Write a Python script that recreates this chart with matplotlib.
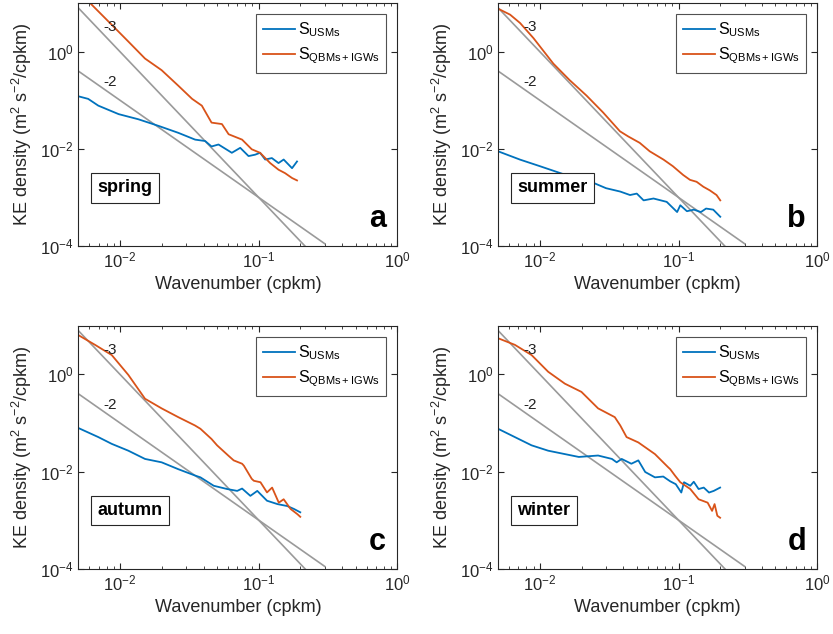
import numpy as np
from matplotlib import pyplot as plt
from matplotlib.ticker import LogLocator, NullLocator, LogFormatterMathtext

plt.rcParams['font.family'] = ['Liberation Sans', 'DejaVu Sans']
plt.rcParams['mathtext.fontset'] = 'custom'
plt.rcParams['mathtext.rm'] = 'Liberation Sans'
plt.rcParams['mathtext.it'] = 'Liberation Sans'

### ---- data ---- ###
seasons = ['spring', 'summer', 'autumn', 'winter']
letters = ['a', 'b', 'c', 'd']

# panel a - spring
k_usm_a = [0.005, 0.00589, 0.00697, 0.00977, 0.01355, 0.0191, 0.0263, 0.0348, 0.0411, 0.0457, 0.0513,
           0.064, 0.0736, 0.0845, 0.0944, 0.1023, 0.1114, 0.1245, 0.139, 0.1514, 0.174, 0.189]
S_usm_a = [0.121, 0.107, 0.0776, 0.0519, 0.0407, 0.0295, 0.0214, 0.0155, 0.0145, 0.0112, 0.0123,
           0.0083, 0.0105, 0.0071, 0.0076, 0.0083, 0.00603, 0.00646, 0.0051, 0.00603, 0.0040, 0.0055]
k_qbm_a = [0.00607, 0.00871, 0.01148, 0.01514, 0.01995, 0.0263, 0.0331, 0.0389, 0.0457, 0.0543,
           0.0607, 0.0759, 0.0891, 0.1023, 0.121, 0.139, 0.155, 0.174, 0.189]
S_qbm_a = [10.1, 3.59, 1.62, 0.724, 0.417, 0.20, 0.107, 0.0776, 0.0347, 0.0324,
           0.020, 0.0155, 0.0098, 0.0083, 0.0051, 0.00372, 0.00316, 0.00251, 0.00224]

# panel b - summer
k_usm_b = [0.005, 0.0072, 0.010, 0.0139, 0.0195, 0.0243, 0.030, 0.038, 0.0447, 0.050, 0.056,
           0.066, 0.0822, 0.0977, 0.103, 0.115, 0.129, 0.145, 0.158, 0.178, 0.20]
S_usm_b = [0.0089, 0.006, 0.0044, 0.0032, 0.0023, 0.0020, 0.00155, 0.00132, 0.00112, 0.0012,
           0.00087, 0.00095, 0.00081, 0.0005, 0.00069, 0.00052, 0.00056, 0.0005, 0.00059, 0.00056, 0.0004]
k_qbm_b = [0.005, 0.0061, 0.0072, 0.009, 0.0125, 0.0164, 0.0217, 0.0286, 0.0378, 0.0434, 0.0525,
           0.062, 0.078, 0.091, 0.108, 0.121, 0.135, 0.151, 0.168, 0.188, 0.20]
S_qbm_b = [7.7, 5.8, 3.9, 1.9, 0.57, 0.26, 0.125, 0.056, 0.023, 0.018, 0.0133,
           0.0089, 0.006, 0.0044, 0.0029, 0.0023, 0.0021, 0.00166, 0.0014, 0.00112, 0.00087]

# panel c - autumn
k_usm_c = [0.005, 0.00697, 0.00871, 0.01148, 0.01514, 0.01995, 0.0263, 0.0347, 0.038, 0.0474,
           0.0592, 0.070, 0.0759, 0.0871, 0.0977, 0.1148, 0.1365, 0.1607, 0.1795, 0.1995]
S_usm_c = [0.079, 0.0513, 0.0372, 0.0269, 0.0182, 0.0155, 0.0112, 0.0083, 0.0076, 0.0051,
           0.00437, 0.0040, 0.00447, 0.00316, 0.0040, 0.00251, 0.00214, 0.00195, 0.0017, 0.00145]
k_qbm_c = [0.005, 0.0066, 0.00871, 0.01148, 0.01514, 0.01995, 0.0263, 0.0347, 0.038, 0.0457,
           0.0501, 0.0603, 0.066, 0.0759, 0.0782, 0.0891, 0.0923, 0.103, 0.1148, 0.125,
           0.1396, 0.1514, 0.1698, 0.1905, 0.1995]
S_qbm_c = [6.46, 4.07, 2.51, 0.977, 0.316, 0.20, 0.132, 0.089, 0.076, 0.0468,
           0.0347, 0.0214, 0.017, 0.0145, 0.0132, 0.00708, 0.00646, 0.00603, 0.00372, 0.00468,
           0.00229, 0.00269, 0.0017, 0.00132, 0.00117]

# panel d - winter
k_usm_d = [0.005, 0.0066, 0.00871, 0.01148, 0.01514, 0.0191, 0.0263, 0.0331, 0.0358, 0.0389,
           0.0457, 0.0513, 0.0575, 0.0676, 0.0776, 0.0871, 0.0955, 0.1047, 0.1096, 0.1216,
           0.1288, 0.1396, 0.152, 0.166, 0.1795, 0.1995]
S_usm_d = [0.0759, 0.0513, 0.0347, 0.0269, 0.0229, 0.020, 0.0214, 0.0182, 0.0155, 0.0182,
           0.0145, 0.017, 0.0098, 0.0076, 0.0079, 0.0063, 0.0055, 0.0037, 0.00603, 0.0051,
           0.00617, 0.00437, 0.00468, 0.0037, 0.0040, 0.00468]
k_qbm_d = [0.005, 0.0066, 0.00871, 0.01148, 0.01514, 0.01995, 0.0263, 0.0347, 0.038, 0.0422,
           0.0513, 0.0676, 0.0841, 0.0871, 0.0942, 0.103, 0.1216, 0.1396, 0.1622, 0.1746,
           0.182, 0.1905, 0.1995]
S_qbm_d = [5.56, 4.07, 2.51, 1.135, 0.646, 0.437, 0.20, 0.132, 0.089, 0.0513,
           0.0398, 0.0229, 0.0123, 0.0112, 0.0083, 0.00603, 0.00437, 0.00269, 0.00229, 0.00155,
           0.00214, 0.00123, 0.00112]

k_usm = [k_usm_a, k_usm_b, k_usm_c, k_usm_d]
S_usm = [S_usm_a, S_usm_b, S_usm_c, S_usm_d]
k_qbm = [k_qbm_a, k_qbm_b, k_qbm_c, k_qbm_d]
S_qbm = [S_qbm_a, S_qbm_b, S_qbm_c, S_qbm_d]

# reference slopes, pinned at (0.1, 1e-3)
ref_slopes = [-3, -2]
ref_k0, ref_S0 = 0.1, 1e-3
ref_krange = [0.005, 0.3]
### ------------------------------------ ###

blue = '#0072BD'
orange = '#D95319'
grey = '#9a9a9a'

fig = plt.figure(figsize=(8.33, 6.34), dpi=100)
lefts = [0.094, 0.598, 0.094, 0.598]
bottoms = [0.612, 0.612, 0.103, 0.103]
w, h = 0.383, 0.383

for i in range(4):
    ax = fig.add_axes([lefts[i], bottoms[i], w, h])
    kr = np.array(ref_krange)
    for s in ref_slopes:
        ax.plot(kr, ref_S0*(kr/ref_k0)**s, color=grey, lw=1.2)
    ax.plot(k_usm[i], S_usm[i], color=blue, lw=1.3, label='S$_{\\mathrm{USMs}}$')
    ax.plot(k_qbm[i], S_qbm[i], color=orange, lw=1.3, label='S$_{\\mathrm{QBMs+IGWs}}$')
    ax.set_xscale('log')
    ax.set_yscale('log')
    ax.set_xlim(0.005, 1)
    ax.set_ylim(1e-4, 10)

    ax.text(0.0076, 3.2, '-3', fontsize=11, color='#222222', va='center')
    ax.text(0.0076, 0.24, '-2', fontsize=11, color='#222222', va='center')

    ax.xaxis.set_major_locator(LogLocator(base=10, numticks=5))
    ax.xaxis.set_minor_locator(LogLocator(base=10, subs=np.arange(2, 10), numticks=10))
    ax.yaxis.set_major_locator(plt.FixedLocator([1e-4, 1e-2, 1e0]))
    ax.yaxis.set_minor_locator(NullLocator())
    ax.yaxis.set_major_formatter(LogFormatterMathtext())
    ax.tick_params(which='both', direction='in', top=True, right=True,
                   labelsize=12, colors='#262626')
    ax.tick_params(which='major', length=4)
    ax.tick_params(which='minor', length=2)
    for sp in ax.spines.values():
        sp.set_color('#262626')
        sp.set_linewidth(0.8)

    ax.set_xlabel('Wavenumber (cpkm)', fontsize=13, color='#262626')
    ax.set_ylabel('KE density (m$^2$ s$^{-2}$/cpkm)', fontsize=13, color='#262626')

    leg = ax.legend(loc='upper right', fontsize=11.5, handlelength=2.0, handletextpad=0.2,
                    borderaxespad=0.7, fancybox=False, edgecolor='#262626', labelspacing=0.4)
    leg.get_frame().set_linewidth(0.8)

    ax.text(0.06, 0.24, seasons[i], transform=ax.transAxes, fontsize=13, fontweight='bold',
            va='center', ha='left',
            bbox=dict(boxstyle='square,pad=0.35', fc='white', ec='#262626', lw=0.8))
    ax.text(0.965, 0.05, letters[i], transform=ax.transAxes, fontsize=22, fontweight='bold',
            va='bottom', ha='right')

fig.savefig('out.png', dpi=100)
